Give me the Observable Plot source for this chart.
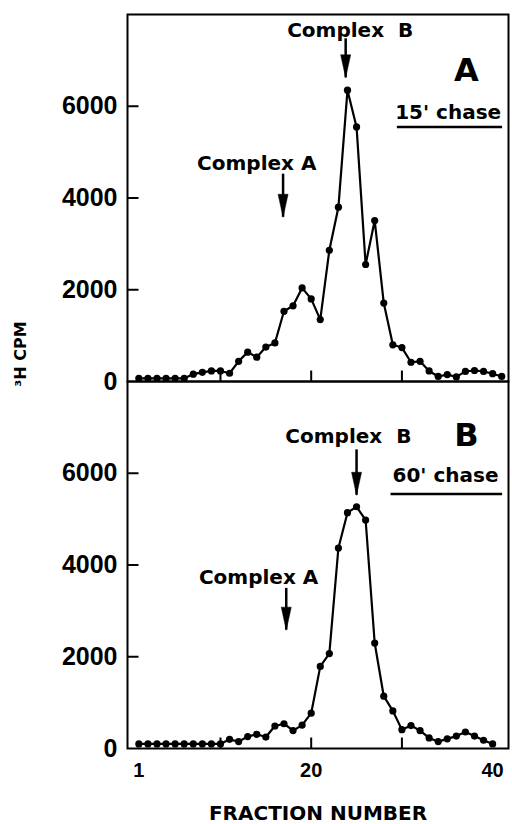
<!DOCTYPE html>
<html>
<head>
<meta charset="utf-8">
<script src="https://cdn.jsdelivr.net/npm/d3@7"></script>
<script src="https://cdn.jsdelivr.net/npm/@observablehq/plot@0.6"></script>
<style>
  html, body { margin: 0; padding: 0; background: #fff; }
  g[aria-label="complex"] text { letter-spacing: 0.5px; }
  g[aria-label="ylabel"] text { letter-spacing: 1px; }
  g[aria-label="xlabel"] text { letter-spacing: 1px; }
</style>
</head>
<body>
<div id="chart"></div>
<script>
// ---- data ----
const fractionsA = [1,2,3,4,5,6,7,8,9,10,11,12,13,14,15,16,17,18,19,20,21,22,23,24,25,26,27,28,29,30,31,32,33,34,35,36,37,38,39,40,41];
const cpmA = [70,70,70,70,70,70,160,200,230,230,180,440,640,530,750,840,1530,1650,2040,1800,1350,2860,3800,6350,5550,2550,3510,1710,800,740,420,440,230,110,150,100,220,240,220,170,110];

const fractionsB = [1,2,3,4,5,6,7,8,9,10,11,12,13,14,15,16,17,18,19,20,21,22,23,24,25,26,27,28,29,30,31,32,33,34,35,36,37,38,39,40];
const cpmB = [100,100,100,100,100,100,100,100,100,100,200,150,260,310,250,490,540,390,510,770,1790,2070,4370,5140,5270,4980,2300,1140,820,410,500,390,230,150,210,270,360,270,180,100];

const panels = ["A", "B"];
const yTickLabels = [0, 2000, 4000, 6000];
const yTickMarks = [2000, 4000, 6000];
const xTickLabels = [1, 20, 40];
const xTickMarks = [10, 20, 30];

// annotations
const complexText = ["Complex  B", "Complex A", "Complex  B", "Complex A"];
const complexPanel = ["A", "A", "B", "B"];
const complexX = [24.3, 14.0, 24.1, 14.2];
const complexY = [7640, 4740, 6790, 3730];
const arrowX = [23.8, 16.9, 25.0, 17.25];
const arrowTop = [7470, 4520, 6510, 3490];
const arrowTip = [6620, 3580, 5520, 2580];

const panelLetterX = [37.1, 37.1];
const panelLetterY = [6770, 6810];
const chaseText = ["15' chase", "60' chase"];
const chaseX = [35.1, 34.8];
const chaseY = [5870, 5940];
const underlineY = [5550, 5550];
const underlineX1 = [29.5, 28.8];
const underlineX2 = [41.1, 41.1];

// ---- build tables ----
const xDomain = [-0.25, 41.75];
const yDomain = [0, 8000];
const frameW = 512 - 127 - 4;
const facetH = (824 - 13 - 76) / 2;
const tickPx = 11;
const xTickLen = tickPx / frameW * (xDomain[1] - xDomain[0]);
const yTickLen = tickPx / facetH * (yDomain[1] - yDomain[0]);

const series = [
  ...fractionsA.map((f, i) => ({panel: "A", fraction: f, cpm: cpmA[i]})),
  ...fractionsB.map((f, i) => ({panel: "B", fraction: f, cpm: cpmB[i]}))
];
const complexes = complexText.map((t, i) => ({
  text: t, panel: complexPanel[i], x: complexX[i], y: complexY[i],
  ax: arrowX[i], top: arrowTop[i], tip: arrowTip[i]
}));
const panelInfo = panels.map((p, i) => ({
  panel: p, lx: panelLetterX[i], ly: panelLetterY[i],
  chase: chaseText[i], cx: chaseX[i], cy: chaseY[i],
  uy: underlineY[i], ux1: underlineX1[i], ux2: underlineX2[i]
}));
const yMarks = panels.flatMap(p => yTickMarks.map(v => ({panel: p, v, a: xDomain[0], b: xDomain[0] + xTickLen})));
const xMarks = panels.flatMap(p => xTickMarks.map(v => ({panel: p, v, a: yDomain[0], b: yDomain[0] + yTickLen})));

const arrowHead = {
  draw(context) {
    context.moveTo(0, 0);
    context.lineTo(-5, -23);
    context.lineTo(5, -23);
    context.closePath();
  }
};

const numFont = "'Liberation Sans', Arial, sans-serif";
const txtFont = "'DejaVu Sans', sans-serif";

const chart = Plot.plot({
  width: 512,
  height: 824,
  marginTop: 13,
  marginBottom: 76,
  marginLeft: 127,
  marginRight: 4,
  style: {fontFamily: numFont, fontWeight: "bold", color: "black", background: "white"},
  x: {domain: xDomain},
  y: {domain: yDomain},
  fy: {domain: panels, padding: 0, axis: null, label: null},
  marks: [
    Plot.frame({strokeWidth: 2}),
    // inward tick marks
    Plot.link(yMarks, {x1: "a", x2: "b", y1: "v", y2: "v", fy: "panel", stroke: "black", strokeWidth: 2}),
    Plot.link(xMarks, {x1: "v", x2: "v", y1: "a", y2: "b", fy: "panel", stroke: "black", strokeWidth: 2}),
    // tick labels
    Plot.axisY({ticks: yTickLabels, tickSize: 0, tickPadding: 10, fontSize: 25, tickFormat: "d", label: null}),
    Plot.axisX({ticks: xTickLabels, tickSize: 0, tickPadding: 14, fontSize: 20, tickFormat: "d", label: null}),
    Plot.line(series, {x: "fraction", y: "cpm", fy: "panel", stroke: "black", strokeWidth: 2.2}),
    Plot.dot(series, {x: "fraction", y: "cpm", fy: "panel", r: 3.6, fill: "black"}),
    // arrows
    Plot.ruleX(complexes, {x: "ax", y1: "top", y2: "tip", fy: "panel", strokeWidth: 2.5}),
    Plot.dot(complexes, {x: "ax", y: "tip", fy: "panel", symbol: arrowHead, fill: "black", stroke: "black", strokeWidth: 0.5}),
    Plot.text(complexes, {x: "x", y: "y", fy: "panel", text: "text", fontSize: 20, fontFamily: txtFont, fontWeight: "bold", ariaLabel: "complex"}),
    // panel letters and chase labels
    Plot.text(panelInfo, {x: "lx", y: "ly", fy: "panel", text: "panel", fontSize: 32, fontFamily: txtFont, fontWeight: "bold"}),
    Plot.text(panelInfo, {x: "cx", y: "cy", fy: "panel", text: "chase", fontSize: 20, fontFamily: txtFont, fontWeight: "bold"}),
    Plot.ruleY(panelInfo, {y: "uy", x1: "ux1", x2: "ux2", fy: "panel", strokeWidth: 2.5}),
    // axis titles
    Plot.text(["³H CPM"], {fy: ["A"], y: [600], frameAnchor: "left", dx: -107, textAnchor: "middle", rotate: -90, fontSize: 16, fontFamily: txtFont, fontWeight: "bold", ariaLabel: "ylabel"}),
    Plot.text(["FRACTION NUMBER"], {fy: ["B"], frameAnchor: "bottom", dy: 57, lineAnchor: "top", fontSize: 20, fontFamily: txtFont, fontWeight: "bold", ariaLabel: "xlabel"})
  ]
});

document.getElementById("chart").appendChild(chart);
</script>
</body>
</html>
